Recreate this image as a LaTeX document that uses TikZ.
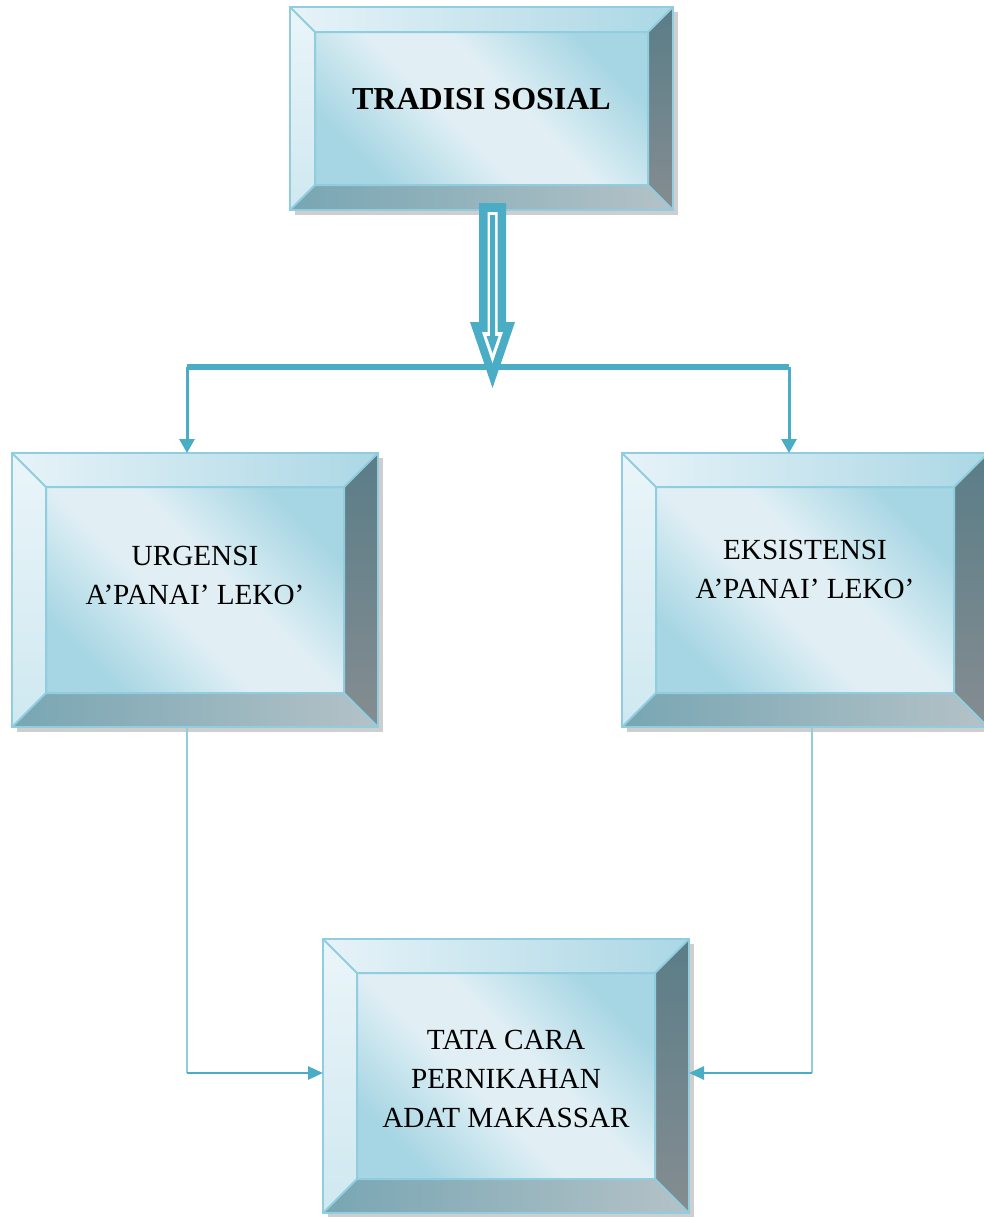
\documentclass[tikz,border=0pt]{standalone}
\usepackage{fontspec}
\setmainfont{Liberation Serif}
\usepackage{tikz}
\usetikzlibrary{arrows.meta,shadows}
\definecolor{tealline}{HTML}{4BACC6}
\definecolor{paleline}{HTML}{92CDDC}
\definecolor{boxedge}{HTML}{8FCDDF}
\definecolor{facedark}{HTML}{A6D5E3}
\definecolor{facemid}{HTML}{C4E3EC}
\definecolor{facelight}{HTML}{E1EFF5}
\definecolor{topL}{HTML}{E7F3F8}
\definecolor{topR}{HTML}{ABD7E5}
\definecolor{leftT}{HTML}{EAF5F9}
\definecolor{leftB}{HTML}{CFE8F0}
\definecolor{rightT}{HTML}{5A7D88}
\definecolor{rightB}{HTML}{858D91}
\definecolor{botL}{HTML}{78A6B3}
\definecolor{botR}{HTML}{B4C2C7}
\pgfdeclareverticalshading{facesheen}{100bp}{color(0bp)=(facedark); color(25bp)=(facedark);
  color(35bp)=(facemid); color(44bp)=(facelight); color(56bp)=(facelight);
  color(65bp)=(facemid); color(75bp)=(facedark); color(100bp)=(facedark)}
\tikzset{
  adatbox/.style={draw=boxedge,line width=1pt,inner sep=0pt,outer sep=0pt,
    minimum width=183pt,minimum height=137pt,
    drop shadow={shadow xshift=2.5pt,shadow yshift=-2.5pt,fill=black!38},
    path picture={
      \coordinate (bNW) at (path picture bounding box.north west);
      \coordinate (bNE) at (path picture bounding box.north east);
      \coordinate (bSW) at (path picture bounding box.south west);
      \coordinate (bSE) at (path picture bounding box.south east);
      \coordinate (iNW) at ([shift={(#1,-#1)}]bNW);
      \coordinate (iNE) at ([shift={(-#1,-#1)}]bNE);
      \coordinate (iSW) at ([shift={(#1,#1)}]bSW);
      \coordinate (iSE) at ([shift={(-#1,#1)}]bSE);
      \shade[left color=topL,right color=topR] (bNW) -- (bNE) -- (iNE) -- (iNW) -- cycle;
      \shade[top color=leftT,bottom color=leftB] (bNW) -- (iNW) -- (iSW) -- (bSW) -- cycle;
      \shade[top color=rightT,bottom color=rightB] (bNE) -- (bSE) -- (iSE) -- (iNE) -- cycle;
      \shade[left color=botL,right color=botR] (bSW) -- (iSW) -- (iSE) -- (bSE) -- cycle;
      \shade[shading=facesheen,shading angle=-45] (iNW) rectangle (iSE);
      \draw[boxedge,line width=1pt] (iNW) rectangle (iSE)
        (bNW) -- (iNW) (bNE) -- (iNE) (bSW) -- (iSW) (bSE) -- (iSE);
    }},
  adatbox/.default=17pt,
  adattext/.style={align=center,inner sep=0pt,font=\fontsize{14.6pt}{19.5pt}\selectfont},
  adattitle/.style={inner sep=0pt,font=\fontsize{16pt}{19pt}\selectfont\bfseries},
  adatbar/.style={tealline,line width=3.25pt},
  adatdrop/.style={tealline,line width=1.5pt,-{Triangle[width=7.5pt,length=7pt]}},
  adatpale/.style={paleline,line width=1.3pt},
  adatfeed/.style={tealline,line width=1.3pt,-{Triangle[width=6.5pt,length=7.5pt]}}
}
\begin{document}
\begin{tikzpicture}[x=0.5pt,y=-0.5pt]
  \useasboundingbox (0,0) rectangle (984,1217);
  \clip (0,0) rectangle (984,1217);
  \node[adatbox=12.5pt,minimum width=191.5pt,minimum height=101.5pt] (tradisi) at (481.5,108.5) {};
  \node[adatbox] (urgensi) at (195,590) {};
  \node[adatbox] (eksistensi) at (805,590) {};
  \node[adatbox] (tatacara) at (506,1076) {};

  \node[adattitle] (tradisi-text) at (481.5,99.5) {TRADISI SOSIAL};
  \node[adattext] (urgensi-text) at (195,575) {URGENSI\\A’PANAI’ LEKO’};
  \node[adattext] (eksistensi-text) at (805,569.5) {EKSISTENSI\\A’PANAI’ LEKO’};
  \node[adattext] (tatacara-text) at (506,1079) {TATA CARA\\PERNIKAHAN\\ADAT MAKASSAR};

  % hollow arrow under the title
  \begin{scope}[shift={([xshift=5.5pt,yshift=3.5pt]tradisi.south)}]
    \fill[tealline] (-13.5,0) -- (13.5,0) -- (13.5,119) -- (22.5,119) -- (0,185)
      -- (-22.5,119) -- (-13.5,119) -- cycle;
    \fill[white] (-5,9) -- (5,9) -- (5,129) -- (10.5,129) -- (0,160)
      -- (-10.5,129) -- (-5,129) -- cycle;
    \fill[tealline] (-2.5,12) -- (2.5,12) -- (2.5,133) -- (6,133) -- (0,150)
      -- (-6,133) -- (-2.5,133) -- cycle;
  \end{scope}

  \coordinate (barL) at (187,367);
  \coordinate (barR) at (789,367);
  \draw[adatbar] (barL) -- (barR);
  \draw[adatdrop] (barL) -- (barL |- urgensi.north);
  \draw[adatdrop] (barR) -- (barR |- eksistensi.north);

  \coordinate (elbowL) at (187,1073);
  \coordinate (elbowR) at (812,1073);
  \draw[adatpale] (urgensi.south -| elbowL) -- (elbowL);
  \draw[adatfeed] (elbowL) -- (elbowL -| tatacara.west);
  \draw[adatpale] (eksistensi.south -| elbowR) -- (elbowR);
  \draw[adatfeed] (elbowR) -- (elbowR -| tatacara.east);
\end{tikzpicture}
\end{document}
